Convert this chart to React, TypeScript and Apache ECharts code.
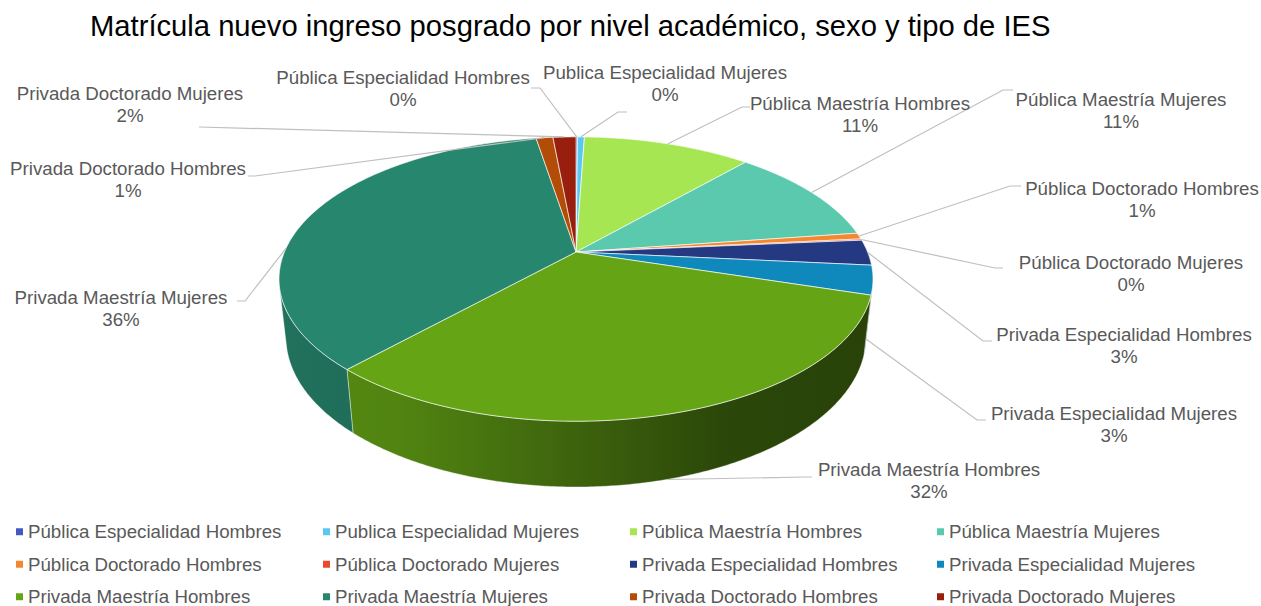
import React, { useEffect, useRef } from "react";
import * as echarts from "echarts";

const TITLE = "Matrícula nuevo ingreso posgrado por nivel académico, sexo y tipo de IES";

const categories = [
  "Pública Especialidad Hombres",
  "Publica Especialidad Mujeres",
  "Pública Maestría Hombres",
  "Pública Maestría Mujeres",
  "Pública Doctorado Hombres",
  "Pública Doctorado Mujeres",
  "Privada Especialidad Hombres",
  "Privada Especialidad Mujeres",
  "Privada Maestría Hombres",
  "Privada Maestría Mujeres",
  "Privada Doctorado Hombres",
  "Privada Doctorado Mujeres",
];

// share of new postgraduate enrolment (%)
const values = [0.1, 0.45, 11.0, 11.2, 0.7, 0.15, 2.9, 3.3, 32.0, 35.6, 1.1, 1.5];

const colors = [
  "#4459c4", "#5bc8f2", "#a6e652", "#5bc9ae",
  "#f4882f", "#e84a2e", "#253882", "#0f88bb",
  "#65a515", "#27876e", "#b24c06", "#981e0d",
];

// layout of data labels: [text centre x, first line centre y]
const labelPos = [
  [403, 77], [665, 72], [860, 103], [1121, 99],
  [1142, 188], [1131, 262], [1124, 334], [1114, 413],
  [929, 469], [121, 297], [128, 168], [130, 93],
];
// leader line start stubs: [x1, x2, y]
const stubs = [
  [531, 540, 88], [627, 618, 112], [750, 742, 107], [1013, 1003, 90],
  [1021, 1010, 186], [1003, 995, 268], [992, 983, 341], [986, 977, 420],
  [812, 805, 477], [237, 245, 301], [248, 255, 176], [199, 200, 127],
];
// leader anchor: 0 = top rim, 1 = bottom rim; shift of the anchor angle in degrees
const anchorLevel = [0, 0, 0, 0, 0, 0, 0, 1, 1, 0, 0, 0];
const anchorShift = [0, 0, 0, 0, 0, 0, 0, 0, 0, -15, 0, 0];

const FONT = "'Liberation Sans', Arial, sans-serif";

// 3D projection parameters
const CX = 576, CY = 252, K = 1350, S = 0.47, C = 0.88, D = 4.63, H = 0.229;

function proj(theta: number, level: number): number[] {
  const X = Math.sin(theta);
  const Z = -Math.cos(theta);
  const Y = -H * level;
  const yc = Y * C - Z * S;
  const depth = D - (Z * C + Y * S);
  return [CX + (K * X) / depth, CY - (K * yc) / depth];
}

function arc(a: number, b: number, level: number): number[][] {
  const step = (0.5 * Math.PI) / 180;
  const n = Math.max(2, Math.ceil((b - a) / step) + 1);
  const pts: number[][] = [];
  for (let i = 0; i < n; i++) pts.push(proj(a + ((b - a) * i) / (n - 1), level));
  return pts;
}

function shade(hex: string, f: number): string {
  const r = parseInt(hex.slice(1, 3), 16);
  const g = parseInt(hex.slice(3, 5), 16);
  const b = parseInt(hex.slice(5, 7), 16);
  const c = (v: number) => Math.max(0, Math.min(255, Math.round(v * f)));
  return `rgb(${c(r)},${c(g)},${c(b)})`;
}

const total = values.reduce((a, b) => a + b, 0);
const cumStart: number[] = [];
values.reduce((acc, v) => {
  cumStart.push(acc);
  return acc + v;
}, 0);

const visLimit = Math.acos(-1 / (D * C)); // side visible between visLimit and 2PI - visLimit

export default function App() {
  const ref = useRef<HTMLDivElement>(null);
  useEffect(() => {
    if (!ref.current) return;
    const chart = echarts.init(ref.current, undefined, { renderer: "svg" });

    const series = categories.map((name, i) => ({
      type: "custom",
      name,
      coordinateSystem: "none",
      silent: true,
      itemStyle: { color: colors[i] },
      data: [[values[i], cumStart[i]]],
      renderItem: (params: any, api: any) => {
        const v = api.value(0);
        const st = api.value(1);
        const a = (st / total) * Math.PI * 2;
        const b = ((st + v) / total) * Math.PI * 2;
        const col = colors[i];
        const children: any[] = [];

        // side wall
        const sa = Math.max(a, visLimit);
        const sb = Math.min(b, Math.PI * 2 - visLimit);
        if (sb > sa) {
          const top = arc(sa, sb, 0);
          const bot = arc(sa, sb, 1).reverse();
          children.push({
            type: "polygon",
            z2: 1,
            shape: { points: top.concat(bot) },
            style: {
              fill: new echarts.graphic.LinearGradient(
                280, 0, 873, 0,
                [
                  { offset: 0, color: shade(col, 0.84) },
                  { offset: 0.2, color: shade(col, 0.8) },
                  { offset: 0.5, color: shade(col, 0.6) },
                  { offset: 0.75, color: shade(col, 0.43) },
                  { offset: 1, color: shade(col, 0.4) },
                ],
                true
              ),
              stroke: "rgba(255,255,255,0.55)",
              lineWidth: 0.7,
            },
          });
        }

        // top face
        const topPts = [[CX, CY]].concat(arc(a, b, 0));
        children.push({
          type: "polygon",
          z2: 5,
          shape: { points: topPts },
          style: { fill: col, stroke: "rgba(255,255,255,0.8)", lineWidth: 0.8 },
        });

        // leader line
        const mid = (a + b) / 2 + (anchorShift[i] * Math.PI) / 180;
        const anc = proj(mid, anchorLevel[i]);
        const [x1, x2, ly] = stubs[i];
        children.push({
          type: "polyline",
          z2: 8,
          shape: { points: [[x1, ly], [x2, ly], anc] },
          style: { stroke: "#bfbfbf", lineWidth: 1.2, fill: null },
        });

        // label
        const pct = Math.round((v / total) * 100);
        children.push({
          type: "text",
          z2: 9,
          x: labelPos[i][0],
          y: labelPos[i][1] - 11,
          style: {
            text: `${categories[i]}\n${pct}%`,
            align: "center",
            verticalAlign: "top",
            fill: "#595959",
            fontSize: 18.7,
            lineHeight: 22,
            fontFamily: FONT,
          },
        });

        return { type: "group", children };
      },
    }));

    chart.setOption({
      animation: false,
      backgroundColor: "#ffffff",
      title: {
        text: TITLE,
        left: 90,
        top: 11,
        padding: 0,
        textStyle: { fontSize: 29.2, fontWeight: "normal", color: "#000000", fontFamily: FONT },
      },
      legend: {
        data: categories,
        left: 16,
        top: 518,
        width: 1240,
        padding: 0,
        icon: "rect",
        itemWidth: 7,
        itemHeight: 7,
        itemGap: 5,
        selectedMode: false,
        formatter: "{n|{name}}",
        textStyle: {
          color: "#595959",
          fontSize: 18.7,
          lineHeight: 27.5,
          height: 27.5,
          fontFamily: FONT,
          rich: {
            n: {
              width: 290,
              height: 27.5,
              lineHeight: 27.5,
              fontSize: 18.7,
              color: "#595959",
              fontFamily: FONT,
            },
          },
        },
      },
      series,
    });
    return () => chart.dispose();
  }, []);

  return (
    <div
      ref={ref}
      style={{ position: "fixed", left: 0, top: 0, width: 1261, height: 606, background: "#fff" }}
    />
  );
}
